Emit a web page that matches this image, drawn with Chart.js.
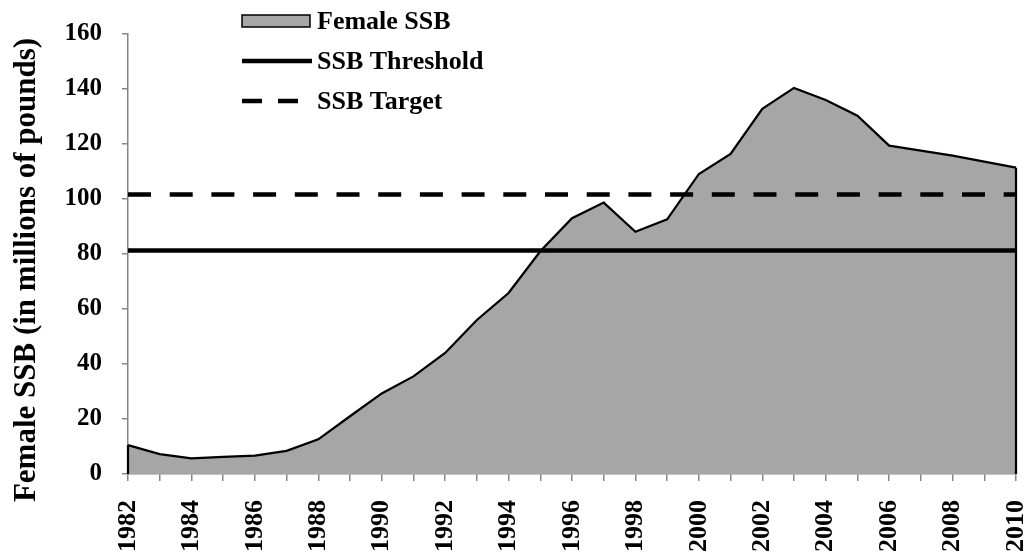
<!DOCTYPE html>
<html>
<head>
<meta charset="utf-8">
<script src="https://cdn.jsdelivr.net/npm/chart.js@4.4.0/dist/chart.umd.min.js"></script>
<style>
  body { margin: 0; background: #fff; }
  #wrap { width: 1029px; height: 554px; position: relative; }
</style>
</head>
<body>
<div id="wrap"><canvas id="ssbChart"></canvas></div>
<script>
var years = [1982, 1983, 1984, 1985, 1986, 1987, 1988, 1989, 1990, 1991,
             1992, 1993, 1994, 1995, 1996, 1997, 1998, 1999, 2000, 2001,
             2002, 2003, 2004, 2005, 2006, 2007, 2008, 2009, 2010];
var femaleSSB = [10.5, 7.2, 5.7, 6.2, 6.7, 8.4, 12.6, 21, 29.3, 35.5,
                 44, 56, 65.8, 81, 93, 98.7, 88.1, 92.6, 109.1, 116.4,
                 132.8, 140.4, 136, 130.3, 119.4, 117.6, 115.8, 113.6, 111.4];
var ssbThreshold = 81.3;
var ssbTarget = 101.6;
var yTicks = [0, 20, 40, 60, 80, 100, 120, 140, 160];

var FONT = '"Liberation Serif", "Times New Roman", serif';

// legend + axis title drawn by hand so they sit where the original has them
var extras = {
    id: 'extras',
    afterDatasetsDraw: function (chart) {
        // close the area at both ends like the original (edge strokes)
        var pts = chart.getDatasetMeta(0).data;
        var y0 = chart.scales.y.getPixelForValue(0);
        var ctx = chart.ctx;
        ctx.save();
        ctx.strokeStyle = '#000';
        ctx.lineWidth = 2.25;
        [pts[0], pts[pts.length - 1]].forEach(function (p) {
            ctx.beginPath();
            ctx.moveTo(p.x, p.y);
            ctx.lineTo(p.x, y0);
            ctx.stroke();
        });
        ctx.restore();
    },
    afterDraw: function (chart) {
        var ctx = chart.ctx;
        ctx.save();
        ctx.font = 'bold 26px ' + FONT;
        ctx.fillStyle = '#000';
        ctx.textBaseline = 'middle';
        ctx.textAlign = 'left';

        // Female SSB
        ctx.fillStyle = '#a6a6a6';
        ctx.fillRect(242, 15, 68, 12);
        ctx.strokeStyle = '#000';
        ctx.lineWidth = 1.5;
        ctx.strokeRect(242, 15, 68, 12);
        ctx.fillStyle = '#000';
        ctx.fillText('Female SSB', 317, 22);

        // SSB Threshold
        ctx.lineWidth = 4.5;
        ctx.beginPath();
        ctx.moveTo(242, 61);
        ctx.lineTo(312, 61);
        ctx.stroke();
        ctx.fillText('SSB Threshold', 317, 62);

        // SSB Target
        ctx.setLineDash([20, 16]);
        ctx.beginPath();
        ctx.moveTo(242, 101);
        ctx.lineTo(298, 101);
        ctx.stroke();
        ctx.setLineDash([]);
        ctx.fillText('SSB Target', 317, 102);

        // y axis title
        ctx.translate(27, 270);
        ctx.rotate(-Math.PI / 2);
        ctx.textAlign = 'center';
        ctx.font = 'bold 31px ' + FONT;
        ctx.fillText('Female SSB (in millions of pounds)', 0, 0);
        ctx.restore();
    }
};

new Chart(document.getElementById('ssbChart'), {
    type: 'line',
    data: {
        labels: years,
        datasets: [{
                label: 'Female SSB',
                data: femaleSSB,
                borderColor: '#000',
                borderWidth: 2.25,
                backgroundColor: '#a6a6a6',
                fill: 'origin',
                pointRadius: 0,
                tension: 0,
                order: 3
            },
            {
                label: 'SSB Threshold',
                data: years.map(function () { return ssbThreshold; }),
                borderColor: '#000',
                borderWidth: 4.5,
                fill: false,
                pointRadius: 0,
                order: 1
            },
            {
                label: 'SSB Target',
                data: years.map(function () { return ssbTarget; }),
                borderColor: '#000',
                borderWidth: 4.5,
                borderDash: [23, 18.7],
                fill: false,
                pointRadius: 0,
                order: 2
            }
        ]
    },
    options: {
        responsive: true,
        maintainAspectRatio: false,
        animation: false,
        layout: {
            padding: { top: 34, right: 13, left: 0, bottom: 0 }
        },
        plugins: {
            legend: { display: false },
            tooltip: { enabled: false },
            title: { display: false }
        },
        scales: {
            x: {
                offset: false,
                afterFit: function (scale) {
                    scale.height = 80;
                    scale.paddingLeft = 0;
                    scale.paddingRight = 0;
                },
                border: { color: '#868686', width: 1.5 },
                grid: {
                    drawOnChartArea: false,
                    drawTicks: true,
                    tickLength: 7,
                    color: '#868686',
                    lineWidth: 1.5
                },
                ticks: {
                    autoSkip: false,
                    minRotation: 90,
                    maxRotation: 90,
                    padding: 19,
                    color: '#000',
                    font: { family: FONT, size: 26, weight: 'bold' },
                    callback: function (v, i) {
                        return years[i] % 2 === 0 ? String(years[i]) : '';
                    }
                }
            },
            y: {
                min: yTicks[0],
                max: yTicks[yTicks.length - 1],
                afterFit: function (scale) {
                    scale.width = 128;
                    scale.paddingTop = 0;
                    scale.paddingBottom = 0;
                },
                border: { color: '#868686', width: 1.5 },
                grid: {
                    drawOnChartArea: false,
                    drawTicks: true,
                    tickLength: 6,
                    color: '#868686',
                    lineWidth: 1.5
                },
                ticks: {
                    stepSize: 20,
                    padding: 20,
                    color: '#000',
                    font: { family: FONT, size: 25, weight: 'bold' }
                }
            }
        }
    },
    plugins: [extras]
});
</script>
</body>
</html>
